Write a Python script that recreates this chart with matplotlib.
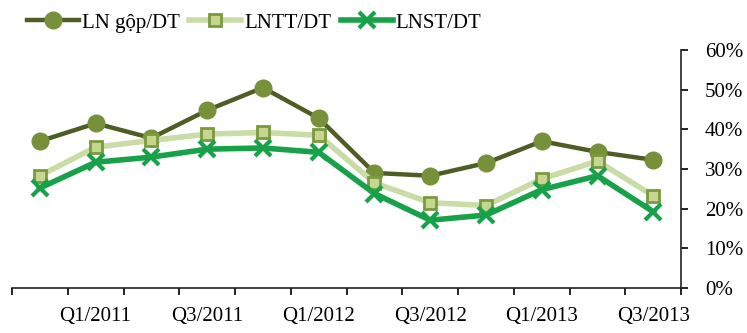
import numpy as np
import matplotlib.pyplot as plt
from matplotlib.ticker import FixedLocator, PercentFormatter

# quarters from Q4/2010 to Q3/2013
quarters = ['Q4/2010', 'Q1/2011', 'Q2/2011', 'Q3/2011', 'Q4/2011', 'Q1/2012',
            'Q2/2012', 'Q3/2012', 'Q4/2012', 'Q1/2013', 'Q2/2013', 'Q3/2013']
ln_gop = [37.0, 41.5, 37.8, 44.8, 50.5, 42.8, 29.0, 28.3, 31.5, 37.0, 34.3, 32.3]
lntt = [28.3, 35.5, 37.2, 38.8, 39.2, 38.5, 26.5, 21.5, 20.8, 27.5, 32.0, 23.2]
lnst = [25.2, 31.7, 33.0, 35.0, 35.3, 34.2, 23.8, 17.1, 18.4, 24.8, 28.3, 19.2]

plt.rcParams['font.family'] = ['Liberation Serif', 'DejaVu Serif']

fig = plt.figure(figsize=(7.47, 3.33), dpi=100)
ax = fig.add_axes([0.016, 0.135, 0.896, 0.715])

x = np.arange(len(quarters))
ax.plot(x, ln_gop, color='#4e5c25', lw=3.2, marker='o', ms=12,
        mfc='#76913a', mec='#76913a', label='LN gộp/DT', zorder=2)
ax.plot(x, lntt, color='#c9dca6', lw=4, marker='s', ms=9,
        mfc='#c6d690', mec='#7b9a3e', mew=2, label='LNTT/DT', zorder=3)
ax.plot(x, lnst, color='#17a24a', lw=4, marker='x', ms=11, mew=3,
        label='LNST/DT', zorder=4)

ax.set_xlim(-0.5, len(quarters) - 0.5)
ax.set_ylim(0, 60)

# category boundaries as ticks, labels on every other quarter
ax.xaxis.set_major_locator(FixedLocator(np.arange(-0.5, len(quarters), 1)))
ax.xaxis.set_minor_locator(FixedLocator(x[1::2]))
ax.set_xticklabels([], minor=False)
ax.set_xticklabels(quarters[1::2], minor=True)
ax.tick_params(axis='x', which='major', direction='out', length=5, width=1.2)
ax.tick_params(axis='x', which='minor', length=0, pad=14, labelsize=15)

ax.yaxis.tick_right()
ax.set_yticks(np.arange(0, 61, 10))
ax.yaxis.set_major_formatter(PercentFormatter(decimals=0))
ax.tick_params(axis='y', direction='out', length=5, width=1.2, pad=12,
               labelsize=15)

for s in ['top', 'left']:
    ax.spines[s].set_visible(False)
for s in ['bottom', 'right']:
    ax.spines[s].set_linewidth(1.2)
    ax.spines[s].set_color('#222222')

fig.legend(loc='upper left', bbox_to_anchor=(0.016, 1.005), ncol=3,
           frameon=False, fontsize=15, handlelength=2.5,
           handletextpad=0.15, columnspacing=0.45, borderaxespad=0.3)

fig.savefig('out.png', dpi=100)
